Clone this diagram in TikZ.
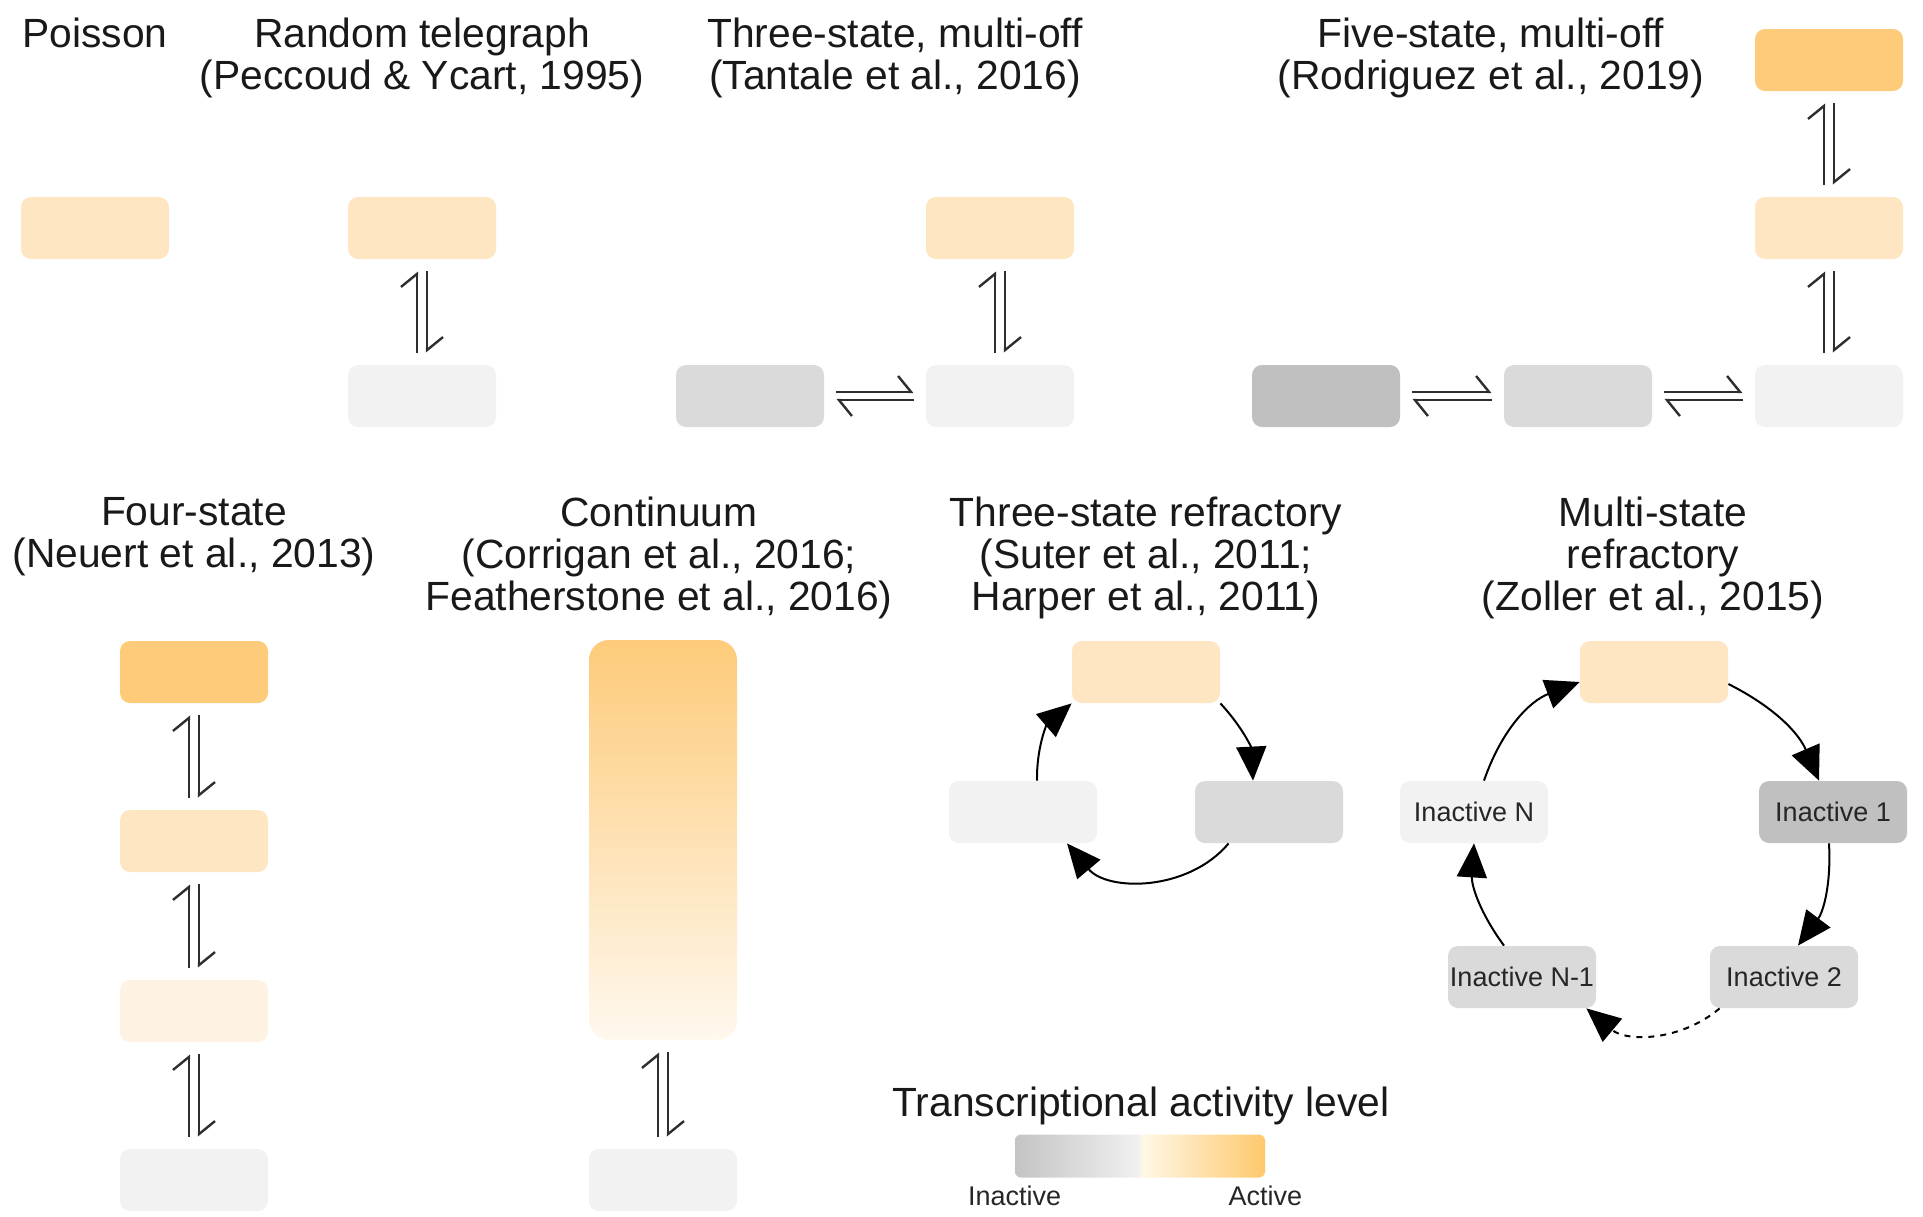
\documentclass[tikz,border=0pt]{standalone}
\usepackage{fontspec}
\setmainfont{Liberation Sans}
\usetikzlibrary{arrows.meta}

\definecolor{actHi}{HTML}{FDCB7A}
\definecolor{actMid}{HTML}{FEE6C2}
\definecolor{actLo}{HTML}{FEF3E2}
\definecolor{offLo}{HTML}{F2F2F2}
\definecolor{offMid}{HTML}{DADADA}
\definecolor{offHi}{HTML}{C0C0C0}
\definecolor{contBot}{HTML}{FFF8EE}
\definecolor{legGrayL}{HTML}{C4C4C4}
\definecolor{legGrayR}{HTML}{F0F0F0}
\definecolor{legOrL}{HTML}{FFF7E6}
\definecolor{legOrR}{HTML}{FDC96C}
\definecolor{arrowgray}{HTML}{2E2E2E}

\pgfdeclarehorizontalshading{activity}{100bp}{color(0bp)=(legGrayL); color(25bp)=(legGrayL); color(49.5bp)=(legGrayR); color(50.5bp)=(legOrL); color(75bp)=(legOrR); color(100bp)=(legOrR)}

\newcommand{\titlefont}{\fontsize{20.4}{21}\selectfont}
\newcommand{\boxfont}{\fontsize{13.5}{14}\selectfont}

% reversible step, upper node #1 and lower node #2
\newcommand{\eqv}[2]{%
  \draw[harp] ([xshift=-2.5pt]#2.north) -- ([xshift=-2.5pt]#1.south);
  \draw[harp] ([xshift=2.5pt]#1.south) -- ([xshift=2.5pt]#2.north);}
% reversible step, left node #1 and right node #2
\newcommand{\eqh}[2]{%
  \draw[harp] ([yshift=2pt]#1.east) -- ([yshift=2pt]#2.west);
  \draw[harp] ([yshift=-2pt]#2.west) -- ([yshift=-2pt]#1.east);}

\begin{document}
\begin{tikzpicture}[x=0.5pt,y=-0.5pt,
    state/.style={rounded corners=5pt, minimum width=74pt, minimum height=31pt, inner sep=0pt, font=\boxfont, text=black!85},
    title/.style={font=\titlefont, align=center, inner sep=0pt, anchor=north, text=black!90},
    harp/.style={draw=arrowgray, line width=1.2pt, shorten <=6pt, shorten >=6pt, -{Straight Barb[left,length=6.5pt,width=16pt]}},
    cyc/.style={draw=black, line width=1pt, -{Triangle[length=17pt,width=15pt]}}]
  \useasboundingbox (0,0) rectangle (1923,1216);

  % titles
  \node[title] (tPois) at (95,18) {Poisson};
  \node[title] (tRT) at (422,18) {Random telegraph\\(Peccoud \& Ycart, 1995)};
  \node[title] (tTS) at (895,18) {Three-state, multi-off\\(Tantale et al., 2016)};
  \node[title] (tFS) at (1491,18) {Five-state, multi-off\\(Rodriguez et al., 2019)};
  \node[title] (tFour) at (194,497) {Four-state\\(Neuert et al., 2013)};
  \node[title] (tCont) at (659,497) {Continuum\\(Corrigan et al., 2016;\\Featherstone et al., 2016)};
  \node[title] (tSR) at (1146,497) {Three-state refractory\\(Suter et al., 2011;\\Harper et al., 2011)};
  \node[title] (tMS) at (1653,497) {Multi-state\\refractory\\(Zoller et al., 2015)};

  % Poisson
  \node[state, fill=actMid] (pois) at (95,228) {};

  % random telegraph
  \node[state, fill=actMid] (rtOn) at (422,228) {};
  \node[state, fill=offLo] (rtOff) at (422,396) {};
  \eqv{rtOn}{rtOff}

  % three-state, multi-off
  \node[state, fill=actMid] (tsOn) at (1000,228) {};
  \node[state, fill=offLo] (tsOffA) at (1000,396) {};
  \node[state, fill=offMid] (tsOffB) at (750,396) {};
  \eqv{tsOn}{tsOffA}
  \eqh{tsOffB}{tsOffA}

  % five-state, multi-off
  \node[state, fill=actHi] (fsOnB) at (1829,60) {};
  \node[state, fill=actMid] (fsOnA) at (1829,228) {};
  \node[state, fill=offLo] (fsOffA) at (1829,396) {};
  \node[state, fill=offMid] (fsOffB) at (1578,396) {};
  \node[state, fill=offHi] (fsOffC) at (1326,396) {};
  \eqv{fsOnB}{fsOnA}
  \eqv{fsOnA}{fsOffA}
  \eqh{fsOffC}{fsOffB}
  \eqh{fsOffB}{fsOffA}

  % four-state
  \node[state, fill=actHi] (fourA) at (194,672) {};
  \node[state, fill=actMid] (fourB) at (194,841) {};
  \node[state, fill=actLo] (fourC) at (194,1011) {};
  \node[state, fill=offLo] (fourD) at (194,1180) {};
  \eqv{fourA}{fourB}
  \eqv{fourB}{fourC}
  \eqv{fourC}{fourD}

  % continuum
  \node[state, rounded corners=10pt, minimum height=200pt, top color=actHi, bottom color=contBot, draw=none] (contOn) at (663,840) {};
  \node[state, fill=offLo] (contOff) at (663,1180) {};
  \eqv{contOn}{contOff}

  % three-state refractory
  \node[state, fill=actMid] (srOn) at (1146,672) {};
  \node[state, fill=offLo] (srA) at (1023,812) {};
  \node[state, fill=offMid] (srB) at (1269,812) {};
  \draw[cyc] (srOn.south east) to[bend left=20] ([xshift=-8pt]srB.north);
  \draw[cyc] ([xshift=17pt]srB.south west) to[bend left=50] ([xshift=22pt]srA.south);
  \draw[cyc] ([xshift=7pt]srA.north) to[bend left=25] (srOn.south west);

  % multi-state refractory
  \node[state, fill=actMid] (msOn) at (1654,672) {};
  \node[state, fill=offHi] (msI1) at (1833,812) {Inactive 1};
  \node[state, fill=offMid] (msI2) at (1784,977) {Inactive 2};
  \node[state, fill=offMid] (msIN1) at (1522,977) {Inactive N-1};
  \node[state, fill=offLo] (msIN) at (1474,812) {Inactive N};
  \draw[cyc] ([yshift=-6pt]msOn.east) to[bend left=20] ([xshift=-7pt]msI1.north);
  \draw[cyc] ([xshift=-2pt]msI1.south) to[bend left=20] ([xshift=7pt]msI2.north);
  \draw[cyc, dash pattern=on 3pt off 3pt] ([xshift=5pt]msI2.south west) to[bend left=40] ([xshift=-5pt]msIN1.south east);
  \draw[cyc] ([xshift=-9pt]msIN1.north) to[bend left=20] (msIN.south);
  \draw[cyc] ([xshift=5pt]msIN.north) to[bend left=25] ([yshift=-5pt]msOn.west);

  % legend
  \node[title] (legTitle) at (1141,1087) {Transcriptional activity level};
  \node[shade, shading=activity, rounded corners=3pt, minimum width=125pt, minimum height=21.5pt, inner sep=0pt] (legBar) at (1140,1156) {};
  \node[font=\boxfont, inner sep=0pt, anchor=north, text=black!85] (legInact) at ([yshift=-4pt]legBar.south west) {Inactive};
  \node[font=\boxfont, inner sep=0pt, anchor=north, text=black!85] (legAct) at ([yshift=-4pt]legBar.south east) {Active};
\end{tikzpicture}
\end{document}
